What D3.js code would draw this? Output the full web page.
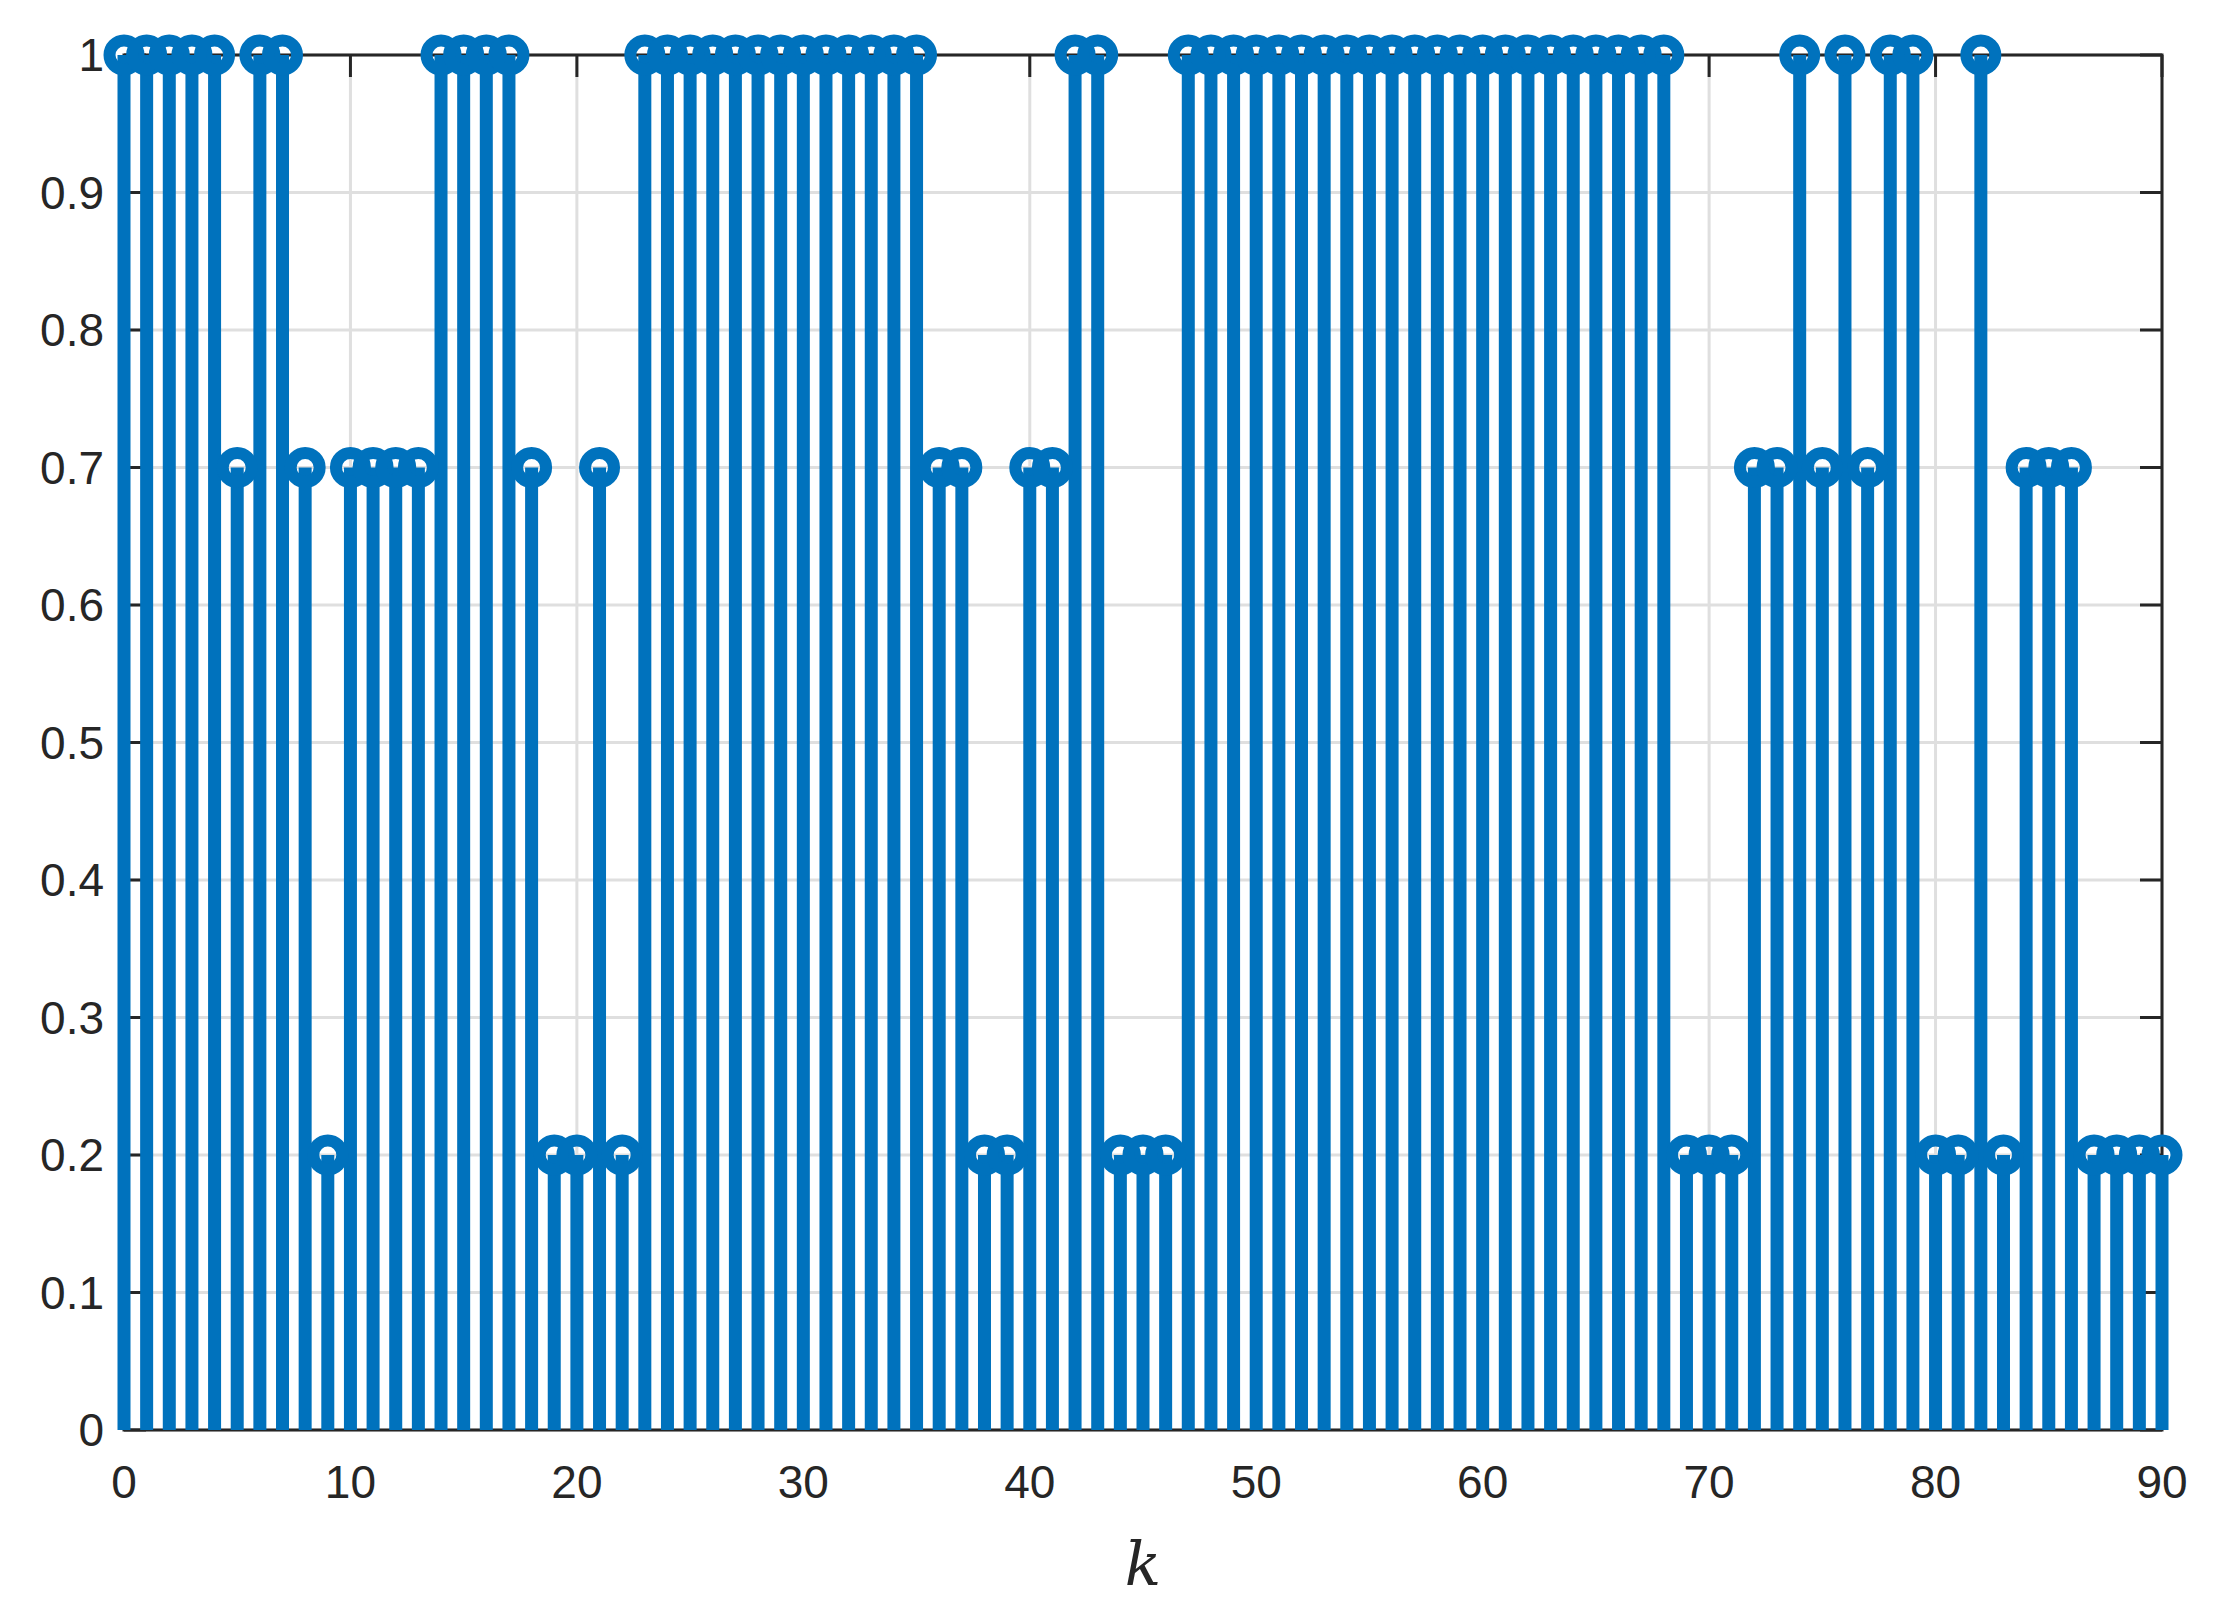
<!DOCTYPE html>
<html><head><meta charset="utf-8">
<script src="https://cdn.jsdelivr.net/npm/d3@7"></script>
<style>body{margin:0;background:#fff}</style>
</head><body>
<svg width="2222" height="1619"></svg>
<script>
// stem values for k = 0..90
var values = [1,1,1,1,1,0.7,1,1,0.7,0.2,
  0.7,0.7,0.7,0.7,1,1,1,1,0.7,0.2,
  0.2,0.7,0.2,1,1,1,1,1,1,1,
  1,1,1,1,1,1,0.7,0.7,0.2,0.2,
  0.7,0.7,1,1,0.2,0.2,0.2,1,1,1,
  1,1,1,1,1,1,1,1,1,1,
  1,1,1,1,1,1,1,1,1,0.2,
  0.2,0.2,0.7,0.7,1,0.7,1,0.7,1,1,
  0.2,0.2,1,0.2,0.7,0.7,0.7,0.2,0.2,0.2,
  0.2];
var xTicks = [0,10,20,30,40,50,60,70,80,90];
var yTicks = [0,0.1,0.2,0.3,0.4,0.5,0.6,0.7,0.8,0.9,1];

(function() {
var svg = d3.select("svg");
var left = 124, right = 2162, top = 55, bottom = 1430;
var blue = "#0072bd";

var x = d3.scaleLinear().domain([0, 90]).range([left, right]);
var y = d3.scaleLinear().domain([0, 1]).range([bottom, top]);

var grid = svg.append("g").attr("stroke", "#dfdfdf").attr("stroke-width", 3);
grid.selectAll(".gx").data(xTicks).enter().append("line")
    .attr("x1", d => x(d)).attr("x2", d => x(d)).attr("y1", top).attr("y2", bottom);
grid.selectAll(".gy").data(yTicks).enter().append("line")
    .attr("x1", left).attr("x2", right).attr("y1", d => y(d)).attr("y2", d => y(d));

// box + inward ticks
var ax = svg.append("g").attr("stroke", "#262626").attr("stroke-width", 3).attr("fill", "none");
ax.append("rect").attr("x", left).attr("y", top).attr("width", right - left).attr("height", bottom - top);
xTicks.forEach(function(t) {
  ax.append("line").attr("x1", x(t)).attr("x2", x(t)).attr("y1", bottom).attr("y2", bottom - 22);
  ax.append("line").attr("x1", x(t)).attr("x2", x(t)).attr("y1", top).attr("y2", top + 22);
});
yTicks.forEach(function(t) {
  ax.append("line").attr("x1", left).attr("x2", left + 22).attr("y1", y(t)).attr("y2", y(t));
  ax.append("line").attr("x1", right).attr("x2", right - 22).attr("y1", y(t)).attr("y2", y(t));
});

var stems = svg.append("g");
stems.selectAll("line").data(values).enter().append("line")
    .attr("x1", (d, i) => x(i)).attr("x2", (d, i) => x(i))
    .attr("y1", y(0)).attr("y2", d => y(d))
    .attr("stroke", blue).attr("stroke-width", 13);
stems.selectAll("circle").data(values).enter().append("circle")
    .attr("cx", (d, i) => x(i)).attr("cy", d => y(d)).attr("r", 14.5)
    .attr("fill", "none").attr("stroke", blue).attr("stroke-width", 12);

var font = "'Liberation Sans', Arial, sans-serif";
svg.append("g").selectAll("text").data(xTicks).enter().append("text")
    .attr("x", d => x(d)).attr("y", bottom + 68).attr("text-anchor", "middle")
    .attr("font-family", font).attr("font-size", 46).attr("fill", "#262626")
    .text(d => d);
svg.append("g").selectAll("text").data(yTicks).enter().append("text")
    .attr("x", left - 20).attr("y", d => y(d) + 16).attr("text-anchor", "end")
    .attr("font-family", font).attr("font-size", 46).attr("fill", "#262626")
    .text(d => d);
svg.append("text").attr("x", (left + right) / 2).attr("y", 1585).attr("text-anchor", "middle")
    .attr("font-family", "'DejaVu Serif', 'Liberation Serif', serif").attr("font-style", "italic")
    .attr("font-size", 60).attr("fill", "#262626").text("k");
})();
</script>
</body></html>
